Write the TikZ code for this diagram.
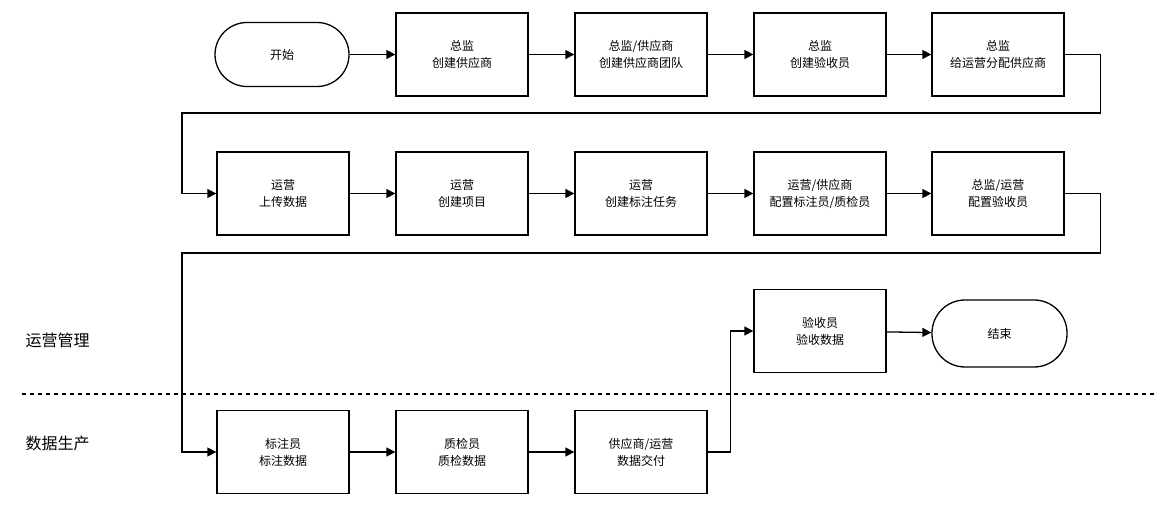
\documentclass[tikz,border=0pt]{standalone}
\usepackage{fontspec}
\setmainfont{Noto Sans CJK SC}
\usetikzlibrary{arrows.meta}
\begin{document}
\begin{tikzpicture}[x=1pt,y=-1pt,
  box/.style={draw,line width=1.3pt,minimum width=132pt,minimum height=83pt,align=center,font=\fontsize{12}{17}\selectfont},
  term/.style={draw,line width=1.3pt,rounded corners=32pt,minimum width=134pt,minimum height=64pt,font=\fontsize{12}{17}\selectfont},
  conn/.style={line width=1.3pt,-{Triangle[length=9pt,width=9pt]}},
  lbl/.style={anchor=west,font=\fontsize{16}{18}\selectfont}]
\useasboundingbox (0,0) rectangle (1176,510);
\node[term] (s) at (282,54.5) {开始};
\node[box] (a1) at (462,54.5) {总监\\创建供应商};
\node[box] (a2) at (641,54.5) {总监/供应商\\创建供应商团队};
\node[box] (a3) at (820,54.5) {总监\\创建验收员};
\node[box] (a4) at (998,54.5) {总监\\给运营分配供应商};
\node[box] (b1) at (283,193.5) {运营\\上传数据};
\node[box] (b2) at (462,193.5) {运营\\创建项目};
\node[box] (b3) at (641,193.5) {运营\\创建标注任务};
\node[box] (b4) at (820,193.5) {运营/供应商\\配置标注员/质检员};
\node[box] (b5) at (998,193.5) {总监/运营\\配置验收员};
\node[box] (c1) at (820,331) {验收员\\验收数据};
\node[term,minimum width=135pt,minimum height=67pt,rounded corners=33pt] (e) at (999.5,333.5) {结束};
\node[box] (d1) at (283,452) {标注员\\标注数据};
\node[box] (d2) at (462,452) {质检员\\质检数据};
\node[box] (d3) at (641,452) {供应商/运营\\数据交付};
\node[lbl] (l1) at (22,340) {运营管理};
\node[lbl] (l2) at (22,443) {数据生产};
\draw[line width=1.3pt,dashed,dash pattern=on 4pt off 4pt] (22,394) coordinate (dl) -- (1155,394) coordinate (dr);
\draw[conn] (s) -- (a1);
\draw[conn] (a1) -- (a2);
\draw[conn] (a2) -- (a3);
\draw[conn] (a3) -- (a4);
\draw[conn] (a4.east) -- ++(36,0) |- (182,113) |- (b1.west);
\draw[conn] (b1) -- (b2);
\draw[conn] (b2) -- (b3);
\draw[conn] (b3) -- (b4);
\draw[conn] (b4) -- (b5);
\draw[conn] (b5.east) -- ++(36,0) |- (182,253) |- (d1.west);
\draw[conn] (d1) -- (d2);
\draw[conn] (d2) -- (d3);
\draw[conn] (d3.east) -- ++(23,0) |- (c1.west);
\draw[conn] (c1) -- (e);
\end{tikzpicture}
\end{document}
